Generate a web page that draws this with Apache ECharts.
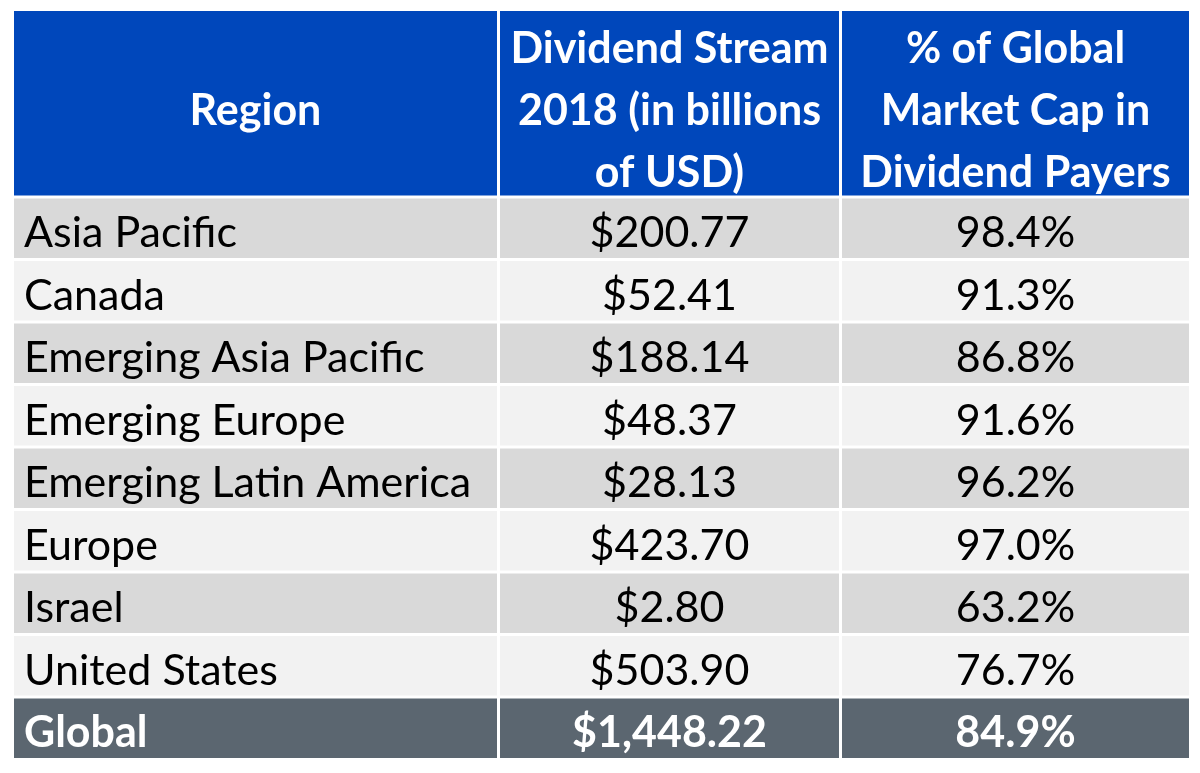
<!DOCTYPE html>
<html>
<head>
<meta charset="utf-8">
<script src="https://cdn.jsdelivr.net/npm/echarts@6/dist/echarts.min.js"></script>
<style>
html,body{margin:0;padding:0;background:#fff;}
#chart{width:1200px;height:773px;}
</style>
</head>
<body>
<div id="chart"></div>
<script>
// ---- data ----
var headers = ['Region', 'Dividend Stream\n2018 (in billions\nof USD)', '% of Global\nMarket Cap in\nDividend Payers'];
var regions = ['Asia Pacific', 'Canada', 'Emerging Asia Pacific', 'Emerging Europe', 'Emerging Latin America', 'Europe', 'Israel', 'United States'];
var dividends = [200.77, 52.41, 188.14, 48.37, 28.13, 423.70, 2.80, 503.90];
var pctPayers = [98.4, 91.3, 86.8, 91.6, 96.2, 97.0, 63.2, 76.7];
var totalLabel = 'Global';
var totalDividend = 1448.22;
var totalPct = 84.9;

function fmtUSD(v) {
  var parts = v.toFixed(2).split('.');
  parts[0] = parts[0].replace(/\B(?=(\d{3})+(?!\d))/g, ',');
  return '$' + parts.join('.');
}
function fmtPct(v) { return v.toFixed(1) + '%'; }

// layout (not data)
var colEdges = [0, 486, 828, 1178];
var headerUnits = 3;
var FONT = 'Lato, "Noto Sans", sans-serif';

// build cells: [col, rowIndex, text, kind]
var cells = [];
headers.forEach(function (h, c) { cells.push([c, -1, h, 'header']); });
regions.forEach(function (r, i) {
  var kind = i % 2 === 0 ? 'odd' : 'even';
  cells.push([0, i, r, kind]);
  cells.push([1, i, fmtUSD(dividends[i]), kind]);
  cells.push([2, i, fmtPct(pctPayers[i]), kind]);
});
var last = regions.length;
cells.push([0, last, totalLabel, 'total']);
cells.push([1, last, fmtUSD(totalDividend), 'total']);
cells.push([2, last, fmtPct(totalPct), 'total']);

var fills = { header: '#0047BB', odd: '#D9D9D9', even: '#F2F2F2', total: '#5B6670' };

function renderItem(params, api) {
  var c = api.value(0), r = api.value(1);
  var text = cells[params.dataIndex][2];
  var kind = cells[params.dataIndex][3];
  var y0u, y1u;
  if (r < 0) { y0u = 0; y1u = headerUnits; }
  else { y0u = headerUnits + r; y1u = headerUnits + r + 1; }
  var p0 = api.coord([colEdges[c], y0u]);
  var p1 = api.coord([colEdges[c + 1], y1u]);
  var inset = 1.5;
  var x = p0[0] + inset, y = p0[1] + inset;
  var w = p1[0] - p0[0] - 2 * inset, h = p1[1] - p0[1] - 2 * inset;
  var isHeader = kind === 'header';
  var bold = isHeader || kind === 'total';
  var color = (isHeader || kind === 'total') ? '#FFFFFF' : '#000000';
  var leftAlign = (c === 0 && !isHeader);
  var tx = leftAlign ? x + 10 : x + w / 2;
  var ty = y + h / 2 + (isHeader ? 8 : 5);
  return {
    type: 'group',
    children: [
      { type: 'rect', shape: { x: x, y: y, width: w, height: h }, style: { fill: fills[kind] } },
      { type: 'text', style: {
          text: text, x: tx, y: ty,
          align: leftAlign ? 'left' : 'center', verticalAlign: 'middle',
          fill: color, fontSize: 43, lineHeight: 62,
          fontWeight: bold ? 'bold' : 'normal', fontFamily: FONT
        } }
    ]
  };
}

var chart = echarts.init(document.getElementById('chart'));
chart.setOption({
  animation: false,
  backgroundColor: '#FFFFFF',
  grid: { left: 12.5, top: 9.5, width: 1178, height: 750 },
  xAxis: { type: 'value', min: 0, max: 1178, show: false },
  yAxis: { type: 'value', min: 0, max: headerUnits + regions.length + 1, inverse: true, show: false },
  series: [{
    type: 'custom',
    renderItem: renderItem,
    data: cells.map(function (d) { return [d[0], d[1]]; })
  }]
});
</script>
</body>
</html>
